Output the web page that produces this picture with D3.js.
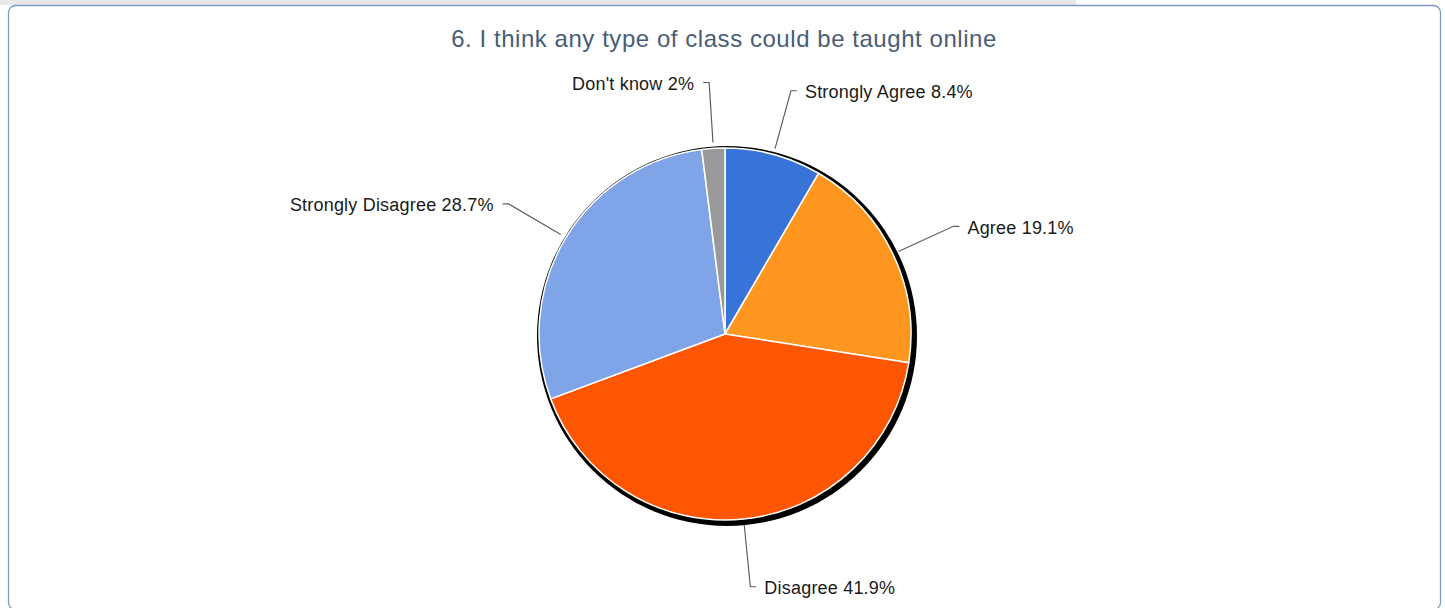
<!DOCTYPE html>
<html>
<head>
<meta charset="utf-8">
<script src="https://cdn.jsdelivr.net/npm/d3@7"></script>
<style>
  html, body { margin: 0; padding: 0; background: #fff; }
  svg { display: block; }
</style>
</head>
<body>
<svg id="chart" width="1445" height="608"></svg>
<script>
const title = "6. I think any type of class could be taught online";
const categories = ["Strongly Agree", "Agree", "Disagree", "Strongly Disagree", "Don't know"];
const values = [8.4, 19.1, 41.9, 28.7, 2];
const valueLabels = ["8.4%", "19.1%", "41.9%", "28.7%", "2%"];
const colors = ["#3874d8", "#ff9620", "#ff5603", "#7fa5e8", "#999999"];

const W = 1445, H = 608;
const svg = d3.select("#chart");

// top gray strip
svg.append("rect").attr("x", 0).attr("y", 0).attr("width", 1076).attr("height", 5).attr("fill", "#e8e8e8");
// frame
svg.append("rect").attr("x", 8.5).attr("y", 5.5).attr("width", 1432).attr("height", 604)
  .attr("rx", 7).attr("ry", 7).attr("fill", "#fff").attr("stroke", "#7f9ac0").attr("stroke-width", 1.3);

svg.append("text").attr("x", 724).attr("y", 47).attr("text-anchor", "middle")
  .attr("font-family", "'Liberation Sans', Arial, sans-serif").attr("font-size", 24)
  .attr("letter-spacing", 0.55)
  .attr("fill", "#495d76").text(title);

const cx = 725, cy = 334, R = 186;
const g = svg.append("g").attr("transform", `translate(${cx},${cy})`);

// shadow
g.append("circle").attr("cx", 2).attr("cy", 2).attr("r", R + 4).attr("fill", "#000");

const pie = d3.pie().sort(null).value(d => d)(values);
const arc = d3.arc().innerRadius(0).outerRadius(R);

g.selectAll("path.slice").data(pie).enter().append("path")
  .attr("class", "slice")
  .attr("d", arc)
  .attr("fill", (d, i) => colors[i])
  .attr("stroke", "#fff").attr("stroke-width", 1.5).attr("stroke-linejoin", "round");

const rStart = 192, rElbow = 253, seg = 6, gap = 9;
pie.forEach((d, i) => {
  const a = (d.startAngle + d.endAngle) / 2;
  const sx = rStart * Math.sin(a), sy = -rStart * Math.cos(a);
  const ex = rElbow * Math.sin(a), ey = -rElbow * Math.cos(a) + 1;
  const right = Math.sin(a) >= 0;
  const hx = ex + (right ? seg : -seg);
  g.append("path")
    .attr("d", `M${sx},${sy}L${ex},${ey}L${hx},${ey}`)
    .attr("fill", "none").attr("stroke", "#5f5f5f").attr("stroke-width", 1.2);
  g.append("text")
    .attr("x", hx + (right ? gap - 1 : -gap))
    .attr("y", ey)
    .attr("dy", 7.5)
    .attr("text-anchor", right ? "start" : "end")
    .attr("font-family", "'Liberation Sans', Arial, sans-serif")
    .attr("font-size", 18)
    .attr("letter-spacing", 0.2)
    .attr("fill", "#1a1a1a")
    .text(categories[i] + " " + valueLabels[i]);
});
</script>
</body>
</html>
